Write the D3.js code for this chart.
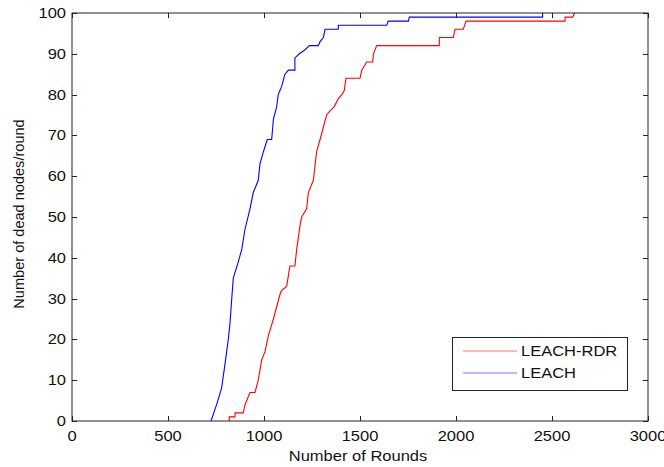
<!DOCTYPE html>
<html><head><meta charset="utf-8">
<script src="https://cdn.jsdelivr.net/npm/d3@7"></script>
<style>body{margin:0;background:#fff}svg{display:block}text{font-family:"Liberation Sans",Arial,sans-serif;fill:#111}</style>
</head><body><svg id="c" width="664" height="467"></svg>
<script>
// Data: [round, cumulative dead nodes]
const leachRounds = [724,753,779,797,814,823,832,840,866,884,901,927,944,970,979,997,1017,1040,1049,1066,1074,1092,1109,1127,1161,1161,1184,1214,1236,1283,1292,1309,1318,1387,1387,1639,1647,1752,1757,2451,2451];
const leachDead   = [0,4,8,14,20,24,30,35,39,42,47,52,56,59,63,66,69,69,74,77,80,82,85,86,86,89,90,91,92,92,93,94,96,96,97,97,98,98,99,99,100];
const rdrRounds = [819,819,849,849,892,901,927,953,970,988,1005,1023,1049,1066,1083,1092,1118,1135,1161,1170,1188,1196,1222,1231,1257,1274,1292,1309,1326,1344,1365,1387,1405,1418,1427,1500,1509,1535,1566,1570,1587,1913,1913,1986,1995,2038,2052,2568,2568,2608,2618];
const rdrDead   = [0,1,1,2,2,4,7,7,10,15,17,21,25,28,31,32,33,38,38,42,48,50,52,56,59,66,69,72,75,76,77,79,80,81,84,84,86,88,88,90,92,92,94,94,96,96,98,98,99,99,100];
const xTicks = [0,500,1000,1500,2000,2500,3000];
const yTicks = [0,10,20,30,40,50,60,70,80,90,100];
const seriesNames = ["LEACH-RDR","LEACH"];
const seriesColors = ["#ff0000","#0000ff"];

const svg = d3.select("#c");
const L=72, R=648, T=13, B=421;
const x = d3.scaleLinear().domain([0,3000]).range([L,R]);
const y = d3.scaleLinear().domain([0,100]).range([B,T]);
const SX = 1.18;

const line = d3.line().x(d=>x(d[0])).y(d=>y(d[1]));
const rdr = rdrRounds.map((r,i)=>[r,rdrDead[i]]);
const leach = leachRounds.map((r,i)=>[r,leachDead[i]]);

const plot = svg.append("g");
plot.append("path").datum(rdr).attr("d",line).attr("fill","none").attr("stroke",seriesColors[0]).attr("stroke-width",1.1);
plot.append("path").datum(leach).attr("d",line).attr("fill","none").attr("stroke",seriesColors[1]).attr("stroke-width",1.1);

// box
svg.append("rect").attr("x",L).attr("y",T).attr("width",R-L).attr("height",B-T)
  .attr("fill","none").attr("stroke","#222").attr("stroke-width",1);

const tk = 5;
const g = svg.append("g").attr("stroke","#222").attr("stroke-width",1);
xTicks.forEach(v=>{
  const px = Math.round(x(v))+0.5;
  g.append("line").attr("x1",px).attr("x2",px).attr("y1",B).attr("y2",B-tk);
  g.append("line").attr("x1",px).attr("x2",px).attr("y1",T).attr("y2",T+tk);
  svg.append("text").attr("transform",`translate(${x(v)},441) scale(${SX},1)`)
    .attr("text-anchor","middle").attr("font-size",14).text(v);
});
yTicks.forEach(v=>{
  const py = Math.round(y(v))+0.5;
  g.append("line").attr("x1",L).attr("x2",L+tk).attr("y1",py).attr("y2",py);
  g.append("line").attr("x1",R).attr("x2",R-tk).attr("y1",py).attr("y2",py);
  svg.append("text").attr("transform",`translate(66,${y(v)+5}) scale(${SX},1)`)
    .attr("text-anchor","end").attr("font-size",14).text(v);
});

svg.append("text").attr("transform",`translate(358,461) scale(${SX},1)`)
  .attr("text-anchor","middle").attr("font-size",14).text("Number of Rounds");
svg.append("text").attr("transform",`translate(24,214) rotate(-90) scale(1.12,1.15)`)
  .attr("text-anchor","middle").attr("font-size",13).text("Number of dead nodes/round");

// legend
const lg = svg.append("g");
lg.append("rect").attr("x",452.5).attr("y",337.5).attr("width",175).attr("height",53)
  .attr("fill","#fff").attr("stroke","#222").attr("stroke-width",1);
seriesNames.forEach((n,i)=>{
  const ly = 351 + i*22;
  lg.append("line").attr("x1",463).attr("x2",517).attr("y1",ly).attr("y2",ly)
    .attr("stroke",seriesColors[i]).attr("stroke-width",1.2).attr("stroke-opacity",0.55);
  lg.append("text").attr("transform",`translate(521,${ly+5}) scale(${SX},1)`)
    .attr("font-size",14).text(n);
});
</script></body></html>
